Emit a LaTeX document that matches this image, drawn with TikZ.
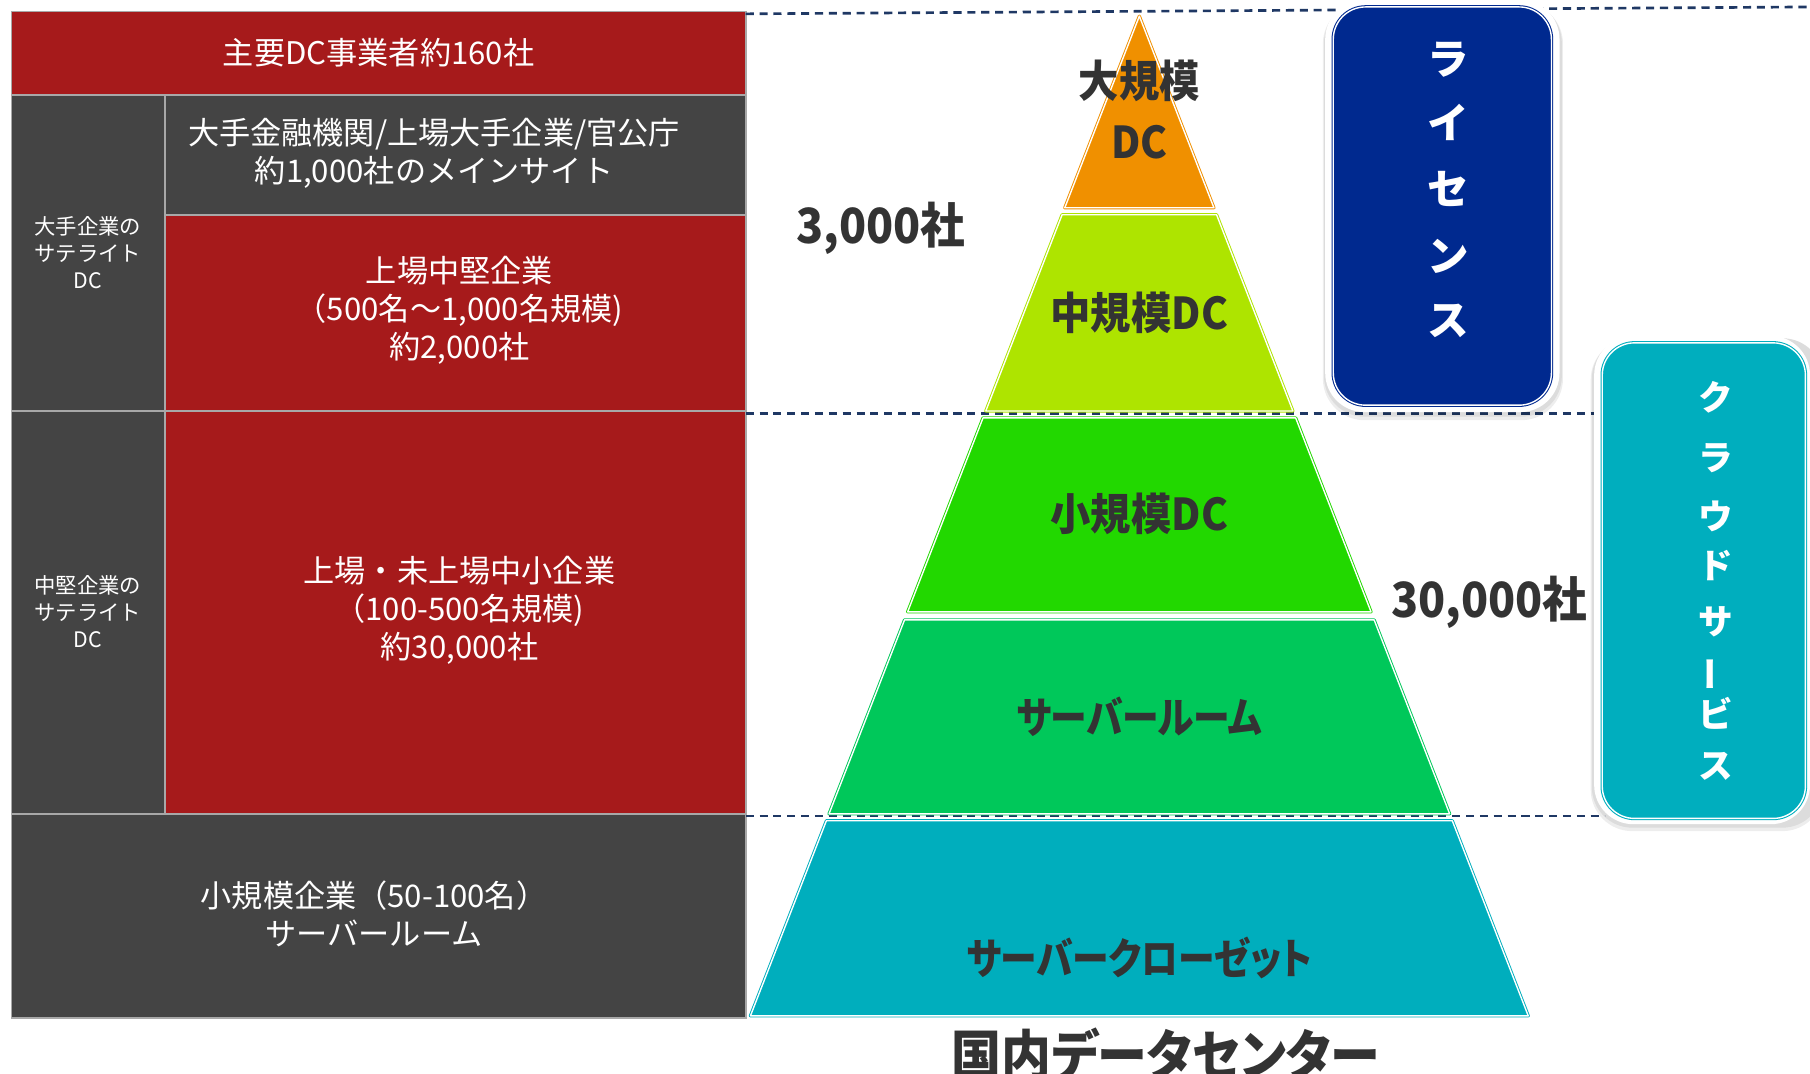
\documentclass[tikz,border=0pt]{standalone}
\usepackage{fontspec}
\newfontfamily\jp{Noto Sans CJK JP}
\newfontfamily\jpb[FakeStretch=0.92,RawFeature=+palt]{Noto Sans CJK JP}
\newfontfamily\jpk[FakeStretch=0.86,RawFeature=+palt]{Noto Sans CJK JP}
\definecolor{cellred}{HTML}{A61A1B}
\definecolor{cellgray}{HTML}{444444}
\definecolor{cellline}{HTML}{A8A8A8}
\definecolor{navyline}{HTML}{1F3864}
\definecolor{navybox}{HTML}{00298F}
\definecolor{tealbox}{HTML}{00AEBE}
\definecolor{pyorange}{HTML}{F09000}
\definecolor{pylime}{HTML}{AEE400}
\definecolor{pygreen}{HTML}{22D800}
\definecolor{pygreenb}{HTML}{00C85A}
\definecolor{pyteal}{HTML}{00AEBD}
\definecolor{labgray}{HTML}{333333}
\begin{document}
\begin{tikzpicture}[x=1pt,y=-1pt,
  cell/.style={draw=cellline, line width=1.5pt, anchor=north west, inner sep=0pt, outer sep=0pt},
  txt/.style={text=white, align=center, inner sep=0pt, font=\jp\fontsize{27}{33}\selectfont},
  stxt/.style={text=white, align=center, inner sep=0pt, font=\jp\fontsize{18.5}{23.5}\selectfont},
  layer/.style={line width=0.8pt, double=white, double distance=1.2pt, line join=round},
  plabel/.style={text=labgray, inner sep=0pt, font=\jpb\bfseries\fontsize{38}{46}\selectfont},
  klabel/.style={text=labgray, inner sep=0pt, font=\jpk\bfseries\fontsize{37}{46}\selectfont},
  bignum/.style={text=labgray, inner sep=0pt, font=\jpb\bfseries\fontsize{42}{50}\selectfont},
  vchar/.style={text=white, inner sep=0pt, font=\jp\bfseries\fontsize{36}{40}\selectfont},
  cchar/.style={text=white, inner sep=0pt, font=\jp\bfseries\fontsize{30}{34}\selectfont},
  dashline/.style={draw=navyline, line width=2.3pt, dash pattern=on 7pt off 5pt},
  shade/.style={fill=black, opacity=0.07},
]
\useasboundingbox (0,0) rectangle (1568,930);
\fill[white] (0,0) rectangle (1568,930);

% ---------- left table ----------
\node[cell, fill=cellred,  minimum width=636pt, minimum height=72pt]  (r1)   at (10,10)  {};
\node[cell, fill=cellgray, minimum width=133pt, minimum height=274pt] (sat1) at (10,82)  {};
\node[cell, fill=cellgray, minimum width=503pt, minimum height=104pt] (main) at (143,82) {};
\node[cell, fill=cellred,  minimum width=503pt, minimum height=170pt] (mid)  at (143,186) {};
\node[cell, fill=cellgray, minimum width=133pt, minimum height=349pt] (sat2) at (10,356) {};
\node[cell, fill=cellred,  minimum width=503pt, minimum height=349pt] (sme)  at (143,356) {};
\node[cell, fill=cellgray, minimum width=636pt, minimum height=177pt] (small) at (10,705) {};

\node[txt]  (t1) at (328,46)  {主要DC事業者約160社};
\node[txt]  (t2) at (376,133) {大手金融機関/上場大手企業/官公庁\\約1,000社のメインサイト};
\node[txt]  (t3) at (398,269) {上場中堅企業\\（500名～1,000名規模)\\約2,000社};
\node[txt]  (t4) at (398,529) {上場・未上場中小企業\\（100-500名規模)\\約30,000社};
\node[txt]  (t5) at (324,792) {小規模企業（50-100名）\\サーバールーム};
\node[stxt] (s1) at (76,219)  {大手企業の\\サテライト\\DC};
\node[stxt] (s2) at (76,530)  {中堅企業の\\サテライト\\DC};

% ---------- dashed guide lines ----------
\coordinate (d1a) at (646,12);  \coordinate (d1b) at (1568,6);
\coordinate (d2a) at (646,358); \coordinate (d2b) at (1386,358);
\coordinate (d3a) at (646,707); \coordinate (d3b) at (1390,707);
\draw[dashline] (d1a) -- (d1b);
\draw[dashline] (d2a) -- (d2b);
\draw[dashline] (d3a) -- (d3b);

% ---------- pyramid ----------
\filldraw[layer, draw=pyorange, fill=pyorange] (987,14) -- (1051.6,180) -- (922.4,180) -- cycle;
\filldraw[layer, draw=pylime,   fill=pylime]   (920.1,186) -- (1053.9,186) -- (1120.0,356) -- (854.0,356) -- cycle;
\filldraw[layer, draw=pygreen,  fill=pygreen]  (851.6,362) -- (1122.4,362) -- (1187.7,530) -- (786.3,530) -- cycle;
\filldraw[layer, draw=pygreenb, fill=pygreenb] (783.6,537) -- (1190.4,537) -- (1255.8,705) -- (718.2,705) -- cycle;
\filldraw[layer, draw=pyteal,   fill=pyteal]   (715.9,711) -- (1258.1,711) -- (1323.9,880) -- (650.1,880) -- cycle;

\node[plabel] (l1a) at (987,70)  {大規模};
\node[plabel] (l1b) at (987,123) {DC};
\node[plabel] (l2)  at (987,271) {中規模DC};
\node[plabel] (l3)  at (987,445) {小規模DC};
\node[klabel] (l4)  at (987,621) {サーバールーム};
\node[klabel] (l5)  at (987,830) {サーバークローゼット};

\node[bignum] (n1) at (763,198)  {3,000社};
\node[bignum] (n2) at (1290,522) {30,000社};
\node[text=labgray, inner sep=0pt, font=\jpb\bfseries\fontsize{47}{52}\selectfont] (title) at (1010,913) {国内データセンター};

% ---------- licence box ----------
\fill[shade, rounded corners=36pt] (1146,2) rectangle (1354,364);
\fill[shade, rounded corners=35pt] (1147,2) rectangle (1353,361);
\fill[white, rounded corners=34pt] (1148,0) rectangle (1351,357);
\filldraw[draw=navybox, fill=navybox, double=white, double distance=1.2pt, line width=0.9pt, rounded corners=28pt]
  (1155,6) rectangle (1344,351);
\node[vchar] (v1) at (1255,52)  {ラ};
\node[vchar] (v2) at (1255,106) {イ};
\node[vchar] (v3) at (1255,164) {セ};
\node[vchar] (v4) at (1255,222) {ン};
\node[vchar] (v5) at (1255,278) {ス};

% ---------- cloud box ----------
\fill[shade, rounded corners=36pt] (1378,293) rectangle (1580,720);
\fill[shade, rounded corners=35pt] (1379,293) rectangle (1579,717);
\fill[white, rounded corners=34pt] (1381,291) rectangle (1568,714);
\filldraw[draw=tealbox, fill=tealbox, double=white, double distance=1.2pt, line width=0.9pt, rounded corners=28pt]
  (1388,297) rectangle (1564,709);
\node[cchar] (c1) at (1486,344) {ク};
\node[cchar] (c2) at (1486,397) {ラ};
\node[cchar] (c3) at (1486,447) {ウ};
\node[cchar] (c4) at (1486,490) {ド};
\node[cchar] (c5) at (1486,539) {サ};
\node[cchar, rotate=90] (c6) at (1486,584) {ー};
\node[cchar] (c7) at (1486,618) {ビ};
\node[cchar] (c8) at (1486,664) {ス};
\end{tikzpicture}
\end{document}
